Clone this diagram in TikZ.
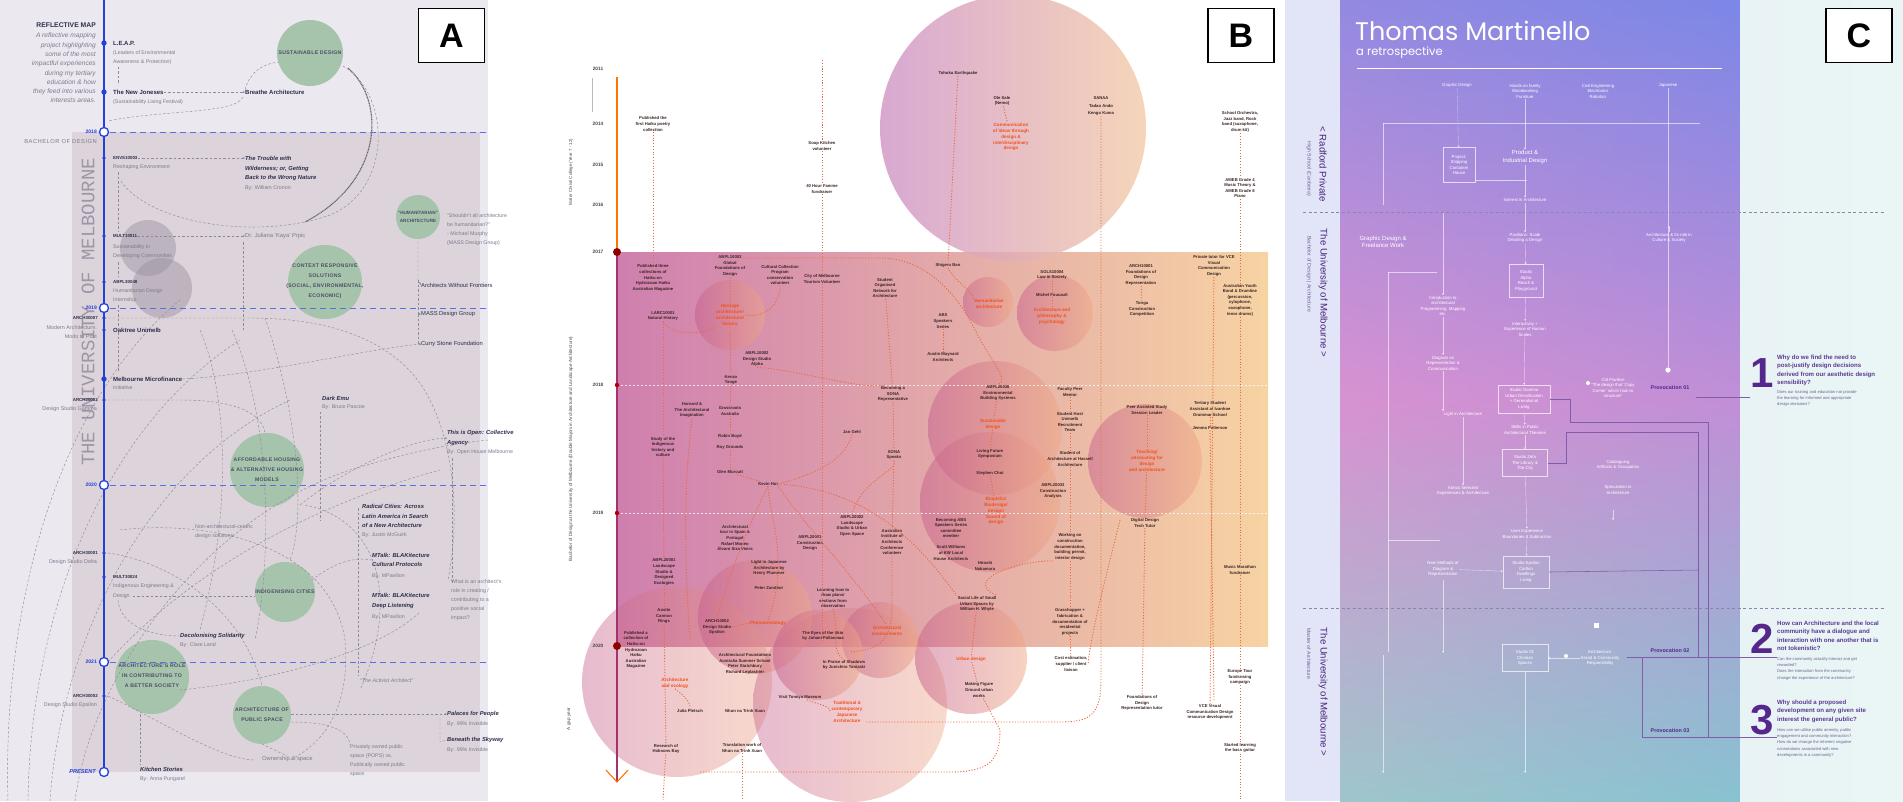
\documentclass[tikz,border=0pt]{standalone}
\usepackage{fontspec}
\setmainfont{Liberation Sans}
\newfontfamily\popp{Poppins}
\newfontfamily\monof{Liberation Mono}
\usetikzlibrary{arrows.meta}
\definecolor{aBg}{HTML}{ECE8F0}
\definecolor{aIn}{HTML}{DDD3DA}
\definecolor{aBlue}{HTML}{2241D6}
\definecolor{aGreen}{HTML}{A6C3AB}
\definecolor{aGreyC}{HTML}{9A909F}
\definecolor{aTxt}{HTML}{2C2F4C}
\definecolor{aGrey}{HTML}{7C7C8E}
\definecolor{aLine}{HTML}{8F8A96}
\definecolor{aUni}{HTML}{9E95A9}
\definecolor{bOr}{HTML}{E96A40}
\definecolor{bTxt}{HTML}{3A2424}
\definecolor{bOt}{HTML}{F1521C}
\definecolor{bPink}{HTML}{CF7FAE}
\definecolor{bPeach}{HTML}{F7D3A3}
\definecolor{bC1}{HTML}{C65E8E}
\definecolor{bC2}{HTML}{EFA886}
\definecolor{bT1}{HTML}{CF93C6}
\definecolor{bT2}{HTML}{F3CBA8}
\definecolor{bLine}{HTML}{A3336F}
\definecolor{bYear}{HTML}{4A4A4A}
\definecolor{cTop}{HTML}{7C87E7}
\definecolor{cMid}{HTML}{D892D1}
\definecolor{cBot}{HTML}{8DD7CA}
\definecolor{cPur}{HTML}{55278C}
\definecolor{cQ}{HTML}{5B3A93}
\definecolor{cSub}{HTML}{6E6390}
\definecolor{cLeft}{HTML}{E2E5F8}
\definecolor{cRight}{HTML}{EAF6F5}
\definecolor{cDash}{HTML}{8A84AE}
\tikzset{
  atitle/.style={font=\fontsize{6.8}{8}\selectfont\bfseries, text=aTxt, inner sep=0pt, anchor=east},
  aital/.style={font=\fontsize{6.6}{9.3}\selectfont\itshape, text=aGrey, inner sep=0pt, anchor=east, align=right},
  aleft/.style={font=\fontsize{5.4}{8.8}\selectfont, text=aGrey, inner sep=0pt, anchor=east, align=right},
  acodel/.style={font=\fontsize{4.4}{5}\selectfont\bfseries, text=aTxt, inner sep=0pt, anchor=east},
  ayear/.style={font=\fontsize{5}{6}\selectfont\bfseries, text=aBlue, inner sep=0pt, anchor=east},
  atx/.style={font=\fontsize{6}{7.2}\selectfont\bfseries, text=aTxt, inner sep=0pt, anchor=west, align=left},
  asub/.style={font=\fontsize{5.3}{9}\selectfont, text=aGrey, inner sep=0pt, anchor=west, align=left},
  acode/.style={font=\fontsize{4.4}{5}\selectfont\bfseries, text=aTxt, inner sep=0pt, anchor=west},
  abook/.style={font=\fontsize{5.8}{9.4}\selectfont\bfseries\itshape, text=aTxt, inner sep=0pt, anchor=west, align=left},
  alab/.style={font=\fontsize{5.2}{10}\selectfont\bfseries\addfontfeature{LetterSpace=6}, text=aTxt!85, align=center, inner sep=0pt},
  gdash/.style={draw=aLine, dash pattern=on 2.5pt off 2pt, line width=0.45pt},
  gtip/.style={gdash, -{Stealth[length=2.2pt,width=2pt]}},
  lbox/.style={draw=black, line width=1.6pt, fill=white, minimum width=66pt, minimum height=54pt, inner sep=0pt, font=\fontsize{34}{34}\selectfont\bfseries},
  btx/.style={font=\fontsize{4.2}{5.6}\selectfont\bfseries, text=bTxt, align=center, inner sep=0.6pt},
  bor/.style={font=\fontsize{4.6}{5.9}\selectfont\bfseries, text=bOt, align=center, inner sep=0.6pt},
  byear/.style={font=\fontsize{4.8}{5}\selectfont\bfseries, text=bYear, inner sep=0pt},
  odot/.style={draw=bOr, dash pattern=on 1.1pt off 1.7pt, line width=0.9pt},
  cw/.style={font=\fontsize{4.3}{5.5}\selectfont, text=white, align=center, inner sep=0.8pt},
  cwb/.style={font=\fontsize{6}{7.4}\selectfont, text=white, align=center, inner sep=0.8pt},
  cbox/.style={cw, draw=white, draw opacity=0.7, line width=0.35pt, minimum width=34pt, minimum height=33pt},
  cwl/.style={draw=white, draw opacity=0.6, line width=0.4pt},
  cwt/.style={cwl, -{Stealth[length=2pt,width=2.2pt]}},
  cpl/.style={draw=cPur!75, line width=0.55pt},
  cprov/.style={font=\fontsize{5.4}{6}\selectfont\bfseries, text=cPur, inner sep=0.5pt},
  cq/.style={font=\fontsize{6.1}{8.3}\selectfont\bfseries, text=cQ, align=left, anchor=north west, inner sep=0pt},
  cqs/.style={font=\fontsize{4.1}{6.3}\selectfont, text=cSub, align=left, anchor=north west, inner sep=0pt},
  cnum/.style={font=\fontsize{42}{42}\selectfont\bfseries, text=cPur, inner sep=0pt},
  cside/.style={font=\fontsize{9.6}{10}\selectfont, text=cPur!85!black, rotate=-90, inner sep=0pt},
  csides/.style={font=\fontsize{5.2}{6}\selectfont, text=cSub, rotate=-90, inner sep=0pt}
}
\begin{document}
\begin{tikzpicture}[x=1pt,y=-1pt]
\useasboundingbox (0,0) rectangle (1903,801);
\fill[white] (0,0) rectangle (1903,801);

%================ PANEL A ================
\fill[aBg] (0,0) rectangle (488,801);
\fill[aIn] (72,132) rectangle (480,772);
\begin{scope}
\clip (0,0) rectangle (488,801);
\fill[aGreen] (310,53) circle[radius=33pt];
\fill[aGreen] (418,217) circle[radius=22pt];
\fill[aGreen] (325,282) circle[radius=37pt];
\fill[aGreyC, opacity=0.45] (148,248) circle[radius=28pt];
\fill[aGreyC, opacity=0.45] (162,288) circle[radius=30pt];
\fill[aGreen] (267,470) circle[radius=37pt];
\fill[aGreen] (285,592) circle[radius=30pt];
\fill[aGreen] (152,677) circle[radius=37pt];
\fill[aGreen] (262,715) circle[radius=29pt];
% big decorative arcs
\draw[gdash] (8,801) .. controls (2,600) and (60,400) .. (180,300);
\draw[gdash] (28,801) .. controls (30,620) and (100,430) .. (240,340);
\draw[gdash] (50,801) .. controls (60,650) and (140,470) .. (290,400);
\draw[gdash] (75,801) .. controls (90,680) and (200,520) .. (350,470) .. controls (400,455) and (440,445) .. (488,440);
\draw[gdash] (200,330) .. controls (230,400) and (230,520) .. (200,630);
\draw[gdash] (232,330) .. controls (272,420) and (272,560) .. (255,640);
\draw[gdash] (265,318) .. controls (300,420) and (305,520) .. (290,560);
\draw[gdash] (243,97) .. controls (236,114) and (160,110) .. (108,121);
\draw[gdash] (343,66) .. controls (392,95) and (392,190) .. (330,215) .. controls (260,240) and (150,225) .. (120,180);
\draw[aLine!70!black, dash pattern=on 1pt off 0.6pt, line width=1.1pt] (348,68) .. controls (385,100) and (385,180) .. (305,222);
\draw[gdash] (108,318) -- (250,318) .. controls (330,318) and (400,340) .. (430,400) .. controls (455,450) and (460,520) .. (448,580);
\draw[gdash] (108,400) -- (180,400) .. controls (240,400) and (262,415) .. (265,433);
\draw[gdash] (108,696) .. controls (160,720) and (220,760) .. (255,760);
\draw[gdash] (108,553) .. controls (160,560) and (240,600) .. (262,686);
\draw[gdash] (108,662) .. controls (200,560) and (330,500) .. (440,470);
\draw[gdash] (180,690) .. controls (280,680) and (380,650) .. (420,612);
\draw[gdash] (120,530) .. controls (200,520) and (330,540) .. (345,640) .. controls (350,700) and (330,740) .. (290,760);
\draw[gdash] (305,505) .. controls (380,520) and (400,600) .. (360,690);
\end{scope}

% timeline A
\draw[aBlue, line width=1.4pt] (104,0) -- (104,767);
\foreach \yy in {132,308,485,662} {\draw[aBlue!75, dash pattern=on 6pt off 4pt, line width=0.8pt] (110,\yy) -- (488,\yy);}
\foreach \yy in {43,92,379} {\fill[aBlue] (104,\yy) circle[radius=2.7pt];}
\foreach \yy in {158,236,282,318,330,400,553,577,696} {\fill[aBlue] (104,\yy) circle[radius=1.8pt];}
\foreach \yy in {132,308,485,662,772} {\draw[aBlue, line width=1.3pt, fill=white] (104,\yy) circle[radius=4.5pt];}

% left texts A
\node[atitle] (rm) at (96,25) {REFLECTIVE MAP};
\node[aital] (intro) at (96,68) {A reflective mapping\\project highlighting\\some of the most\\impactful experiences\\during my tertiary\\education \& how\\they feed into various\\interests areas.};
\node[font=\fontsize{5.8}{6}\selectfont\addfontfeature{LetterSpace=8}, text=aGrey, inner sep=0pt, anchor=east] (bach) at (97,141) {BACHELOR OF DESIGN};
\node[font=\monof\fontsize{19}{19}\selectfont, text=aUni, rotate=90, inner sep=0pt] (uni) at (88,312) {THE UNIVERSITY OF MELBOURNE};
\node[ayear] (y18) at (97,132) {2018};
\node[ayear] (y19) at (97,308) {2019};
\node[ayear] (y20) at (97,485) {2020};
\node[ayear] (y21) at (97,662) {2021};
\node[ayear, font=\fontsize{5.6}{6}\selectfont\bfseries\itshape] (ypr) at (96,772) {PRESENT};
\node[acodel] (a307) at (98,318) {ARCH30007};
\node[aleft] (a307t) at (97,332) {Modern Architecture:\\Modo to Post};
\node[acodel] (a203) at (98,400) {ARCH20003};
\node[aleft] (a203t) at (97,409) {Design Studio Gamma};
\node[acodel] (a301) at (98,553) {ARCH30001};
\node[aleft] (a301t) at (97,562) {Design Studio Delta};
\node[acodel] (a302) at (98,696) {ARCH30002};
\node[aleft] (a302t) at (97,705) {Design Studio Epsilon};

% right texts A
\node[atx] (leap) at (113,43) {L.E.A.P.};
\node[asub] (leapt) at (113,57.5) {(Leaders of Environmental\\Awareness \& Protection)};
\node[atx] (nj) at (113,92) {The New Joneses};
\node[asub] (njt) at (113,102) {(Sustainability Living Festival)};
\node[atx] (br) at (245,92) {Breathe Architecture};
\node[acode] (envs) at (113,158) {ENVS10003};
\node[asub] (envst) at (113,167) {Reshaping Environment};
\node[abook] (trouble) at (245,168.5) {The Trouble with\\Wilderness; or, Getting\\Back to the Wrong Nature};
\node[asub] (troubleb) at (245,188) {By: William Cronon};
\node[acode] (mult) at (113,236) {MULT10011};
\node[asub] (multt) at (113,251.5) {Sustainability in\\Developing Communities};
\node[asub, font=\fontsize{5.8}{7}\selectfont] (jul) at (245,236) {Dr. Juliana ‘Kaya’ Prpic};
\node[acode] (abpl) at (113,282) {ABPL30048};
\node[asub] (abplt) at (113,295.5) {Humanitarian Design\\Internship};
\node[atx] (oak) at (113,330) {Oaktree Unimelb};
\node[atx] (mm) at (113,379) {Melbourne Microfinance};
\node[asub] (mmt) at (113,388) {Initiative};
\node[abook] (emu) at (322,398) {Dark Emu};
\node[asub] (emub) at (322,407) {By: Bruce Pascoe};
\node[asub] (hum) at (447,230) {“Shouldn’t all architecture\\be humanitarian?”\\- Michael Murphy\\(MASS Design Group)};
\node[atx, font=\fontsize{5.8}{7}\selectfont] (awf) at (421,285) {Architects Without Frontiers};
\node[atx, font=\fontsize{5.8}{7}\selectfont] (mass) at (421,314) {MASS Design Group};
\node[atx, font=\fontsize{5.8}{7}\selectfont] (cs) at (421,344) {Curry Stone Foundation};
\node[abook] (open) at (447,438) {This is Open: Collective\\Agency};
\node[asub] (openb) at (447,452) {By: Open House Melbourne};
\node[asub] (nonarch) at (195,532) {Non-architectural-centric\\design solutions};
\node[abook] (rad) at (362,516) {Radical Cities: Across\\Latin America in Search\\of a New Architecture};
\node[asub] (radb) at (362,535) {By: Justin McGuirk};
\node[abook] (mt1) at (372,560) {MTalk: BLAKitecture\\Cultural Protocols};
\node[asub] (mt1b) at (372,576) {By: MPavilion};
\node[abook] (mt2) at (372,601) {MTalk: BLAKitecture\\Deep Listening};
\node[asub] (mt2b) at (372,617) {By: MPavilion};
\node[asub] (what) at (451,600) {What is an architect’s\\role in creating /\\contributing to a\\positive social\\impact?};
\node[acode] (m324) at (113,577) {MULT30024};
\node[asub] (m324t) at (113,586) {Indigenous Engineering \&};
\node[asub] (ides) at (113,596) {Design};
\node[abook] (dec) at (180,636) {Decolonising Solidarity};
\node[asub] (decb) at (180,645) {By: Clare Land};
\node[asub, font=\fontsize{5.3}{7}\selectfont\itshape] (act) at (360,681) {“The Activist Architect”};
\node[asub, font=\fontsize{5.8}{7}\selectfont] (own) at (262,759) {Ownership \& space};
\node[asub] (pops) at (350,761) {Privately owned public\\space (POPS) vs.\\Publically owned public\\space};
\node[abook] (pal) at (447,714) {Palaces for People};
\node[asub] (palb) at (447,724) {By: 99\% Invisible};
\node[abook] (sky) at (447,740) {Beneath the Skyway};
\node[asub] (skyb) at (447,750) {By: 99\% Invisible};
\node[abook] (kit) at (140,769) {Kitchen Stories};
\node[asub] (kitb) at (140,779) {By: Anna Pungarel};

% circle labels A
\node[alab] (sd) at (310,53) {SUSTAINABLE DESIGN};
\node[alab, font=\fontsize{4.6}{7.5}\selectfont\bfseries] (ha) at (418,217) {“HUMANITARIAN”\\ARCHITECTURE};
\node[alab] (crs) at (325,281) {CONTEXT RESPONSIVE\\SOLUTIONS\\(SOCIAL, ENVIRONMENTAL,\\ECONOMIC)};
\node[alab] (ah) at (267,470) {AFFORDABLE HOUSING\\\& ALTERNATIVE HOUSING\\MODELS};
\node[alab] (ic) at (285,592) {INDIGENISING CITIES};
\node[alab] (ar) at (152,676) {ARCHITECTURE’S ROLE\\IN CONTRIBUTING TO\\A BETTER SOCIETY};
\node[alab] (ps) at (262,715) {ARCHITECTURE OF\\PUBLIC SPACE};

% connectors A
\draw[gdash] (leapt.south west) ++(5,2) -- ++(0,18);
\draw[gtip] (nj) -- (br);
\draw[gdash] (br.north west) .. controls (250,72) and (262,64) .. (279,62);
\draw[gtip] (envs) -- (trouble.west |- envs);
\draw[gdash] (118,172) -- (118,232);
\draw[gtip] (mult) -- (jul);
\draw[gdash] (243,242) -- (243,330);
\draw[gdash] (118,262) -- (118,276);
\draw[gdash] (118,305) -- (118,372);
\draw[gtip] (418,242) -- (418,280) -- (awf.west);
\draw[gtip] (418,280) -- (418,314) -- (mass.west);
\draw[gtip] (418,314) -- (418,344) -- (cs.west);
\draw[gdash] (mm.east) .. controls (260,375) and (360,350) .. (cs.west);
\draw[gdash] (emub.south west) ++(-2,2) -- (320,520);
\draw[gtip] (300,505) .. controls (330,480) and (400,440) .. (open.west);
\draw[gdash] (452,458) -- (452,582);
\draw[gdash] (ides.east) ++(3,0) -- (255,596);
\draw[gdash] (312,580) .. controls (330,566) and (350,556) .. (mt1.west);
\draw[gdash] (358,508) -- (358,676);
\draw[gdash] (118,600) .. controls (120,625) and (150,636) .. (dec.west);
\draw[gtip] (291,714) -- (pal.west);
\draw[gdash] (262,744) -- (own.north);
\draw[gdash] (291,722) .. controls (340,722) and (349,735) .. (pops.north west);
\draw[gdash] (140,714) -- (140,764);
\draw[gdash] (440,718) -- (440,742) -- (sky.west);

\node[lbox] (la) at (451.5,35.5) {A};

%================ PANEL B ================
\shade[left color=bPink, right color=bPeach] (617,252) rectangle (1268,646);
\shade[left color=bT1, right color=bT2, opacity=0.8] (1013,128) circle[radius=133pt];
\shade[left color=bC1, right color=bC2, opacity=0.42] (677,682) circle[radius=95pt];
\shade[left color=bC1, right color=bC2, opacity=0.42] (850,705) circle[radius=97pt];
\foreach \cx/\cy/\rr in {730/315/35, 988/302/25, 1055/313/38, 995/428/67, 990/502/70, 1145/461/57, 971/658/56, 880/640/38, 755/617/57, 818/655/45}
  {\shade[left color=bC1, right color=bC2, opacity=0.5] (\cx,\cy) circle[radius=\rr pt];}
\draw[white, dash pattern=on 2pt off 2pt, line width=0.6pt, opacity=0.75] (617,385) -- (1268,385);
\draw[white, dash pattern=on 2pt off 2pt, line width=0.6pt, opacity=0.75] (617,513) -- (1268,513);

% timeline B
\draw[aLine!60, line width=0.5pt] (592,78) -- (592,112);
\draw[draw=orange!90!red, line width=1.5pt] (617,77) -- (617,252);
\draw[bLine, line width=1.5pt] (617,252) -- (617,781);
\draw[orange!90!red, line width=1.1pt] (606,770) -- (617,782) -- (628,770);
\fill[red!55!black] (617,252) circle[radius=4pt];
\fill[red!70!black] (617,385) circle[radius=2.2pt];
\fill[red!70!black] (617,513) circle[radius=2.2pt];
\fill[red!55!black] (617,646) circle[radius=4pt];
\node[byear] (t11) at (598,69) {2011};
\node[byear] (t14) at (598,124) {2014};
\node[byear] (t15) at (598,165) {2015};
\node[byear] (t16) at (598,205) {2016};
\node[byear] (t17) at (598,252) {2017};
\node[byear] (t18) at (598,385) {2018};
\node[byear] (t19) at (598,513) {2019};
\node[byear] (t20) at (598,646) {2020};
\node[font=\fontsize{4.4}{5}\selectfont, text=bYear, rotate=90, inner sep=0pt] (lmc) at (571,172) {Mater Christi College (Year 7 - 12)};
\node[font=\fontsize{4.6}{5}\selectfont, text=bYear, rotate=90, inner sep=0pt] (lbd) at (571,449) {Bachelor of Design at the University of Melbourne (Double Majors in Architecture and Landscape Architecture)};
\node[font=\fontsize{4.6}{5}\selectfont, text=bYear, rotate=90, inner sep=0pt] (lgy) at (569,719) {A gap year};

% B text nodes
\node[btx] (b1) at (653,124) {Published the\\first Haiku poetry\\collection};
\node[btx] (b2) at (822,146) {Soup Kitchen\\volunteer};
\node[btx] (b3) at (822,189) {40 Hour Famine\\fundraiser};
\node[btx] (b4) at (653,278) {Published three\\collections of\\Haiku on\\Hydrozoan Haiku\\Australian Magazine};
\node[btx] (b5) at (730,266) {ABPL10003\\Global\\Foundations of\\Design};
\node[btx] (b6) at (780,275) {Cultural Collection\\Program\\conservation\\volunteer};
\node[btx] (b7) at (822,279) {City of Melbourne\\Tourism Volunteer};
\node[btx] (b8) at (663,316) {LARC10001\\Natural History};
\node[bor] (b9) at (730,315) {Heritage\\architecture/\\architectural\\history};
\node[btx] (b10) at (757,359) {ABPL10002\\Design Studio\\Alpha};
\node[btx] (b12) at (731,380) {Kenzo\\Tange};
\node[btx] (b13) at (692,410) {Harvard \&\\The Architectural\\Imagination};
\node[btx] (b14) at (730,411) {Grassroots\\Australia};
\node[btx] (b15) at (730,436) {Robin Boyd};
\node[btx] (b16) at (730,447) {Roy Grounds};
\node[btx] (b17) at (730,472) {Glen Murcutt};
\node[btx] (b18) at (663,447) {Study of the\\Indigenous\\history and\\culture};
\node[btx] (b19) at (768,484) {Kevin Hui};
\node[btx] (b20) at (852,432) {Jan Gehl};
\node[btx] (b21) at (735,538) {Architectural\\tour in Spain \&\\Portugal\\Rafael Moneo\\Álvaro Siza Vieira};
\node[btx] (b22) at (810,543) {ABPL20001\\Construction\\Design};
\node[btx] (b23) at (852,526) {ABPL20002\\Landscape\\Studio \& Urban\\Open Space};
\node[btx] (b24) at (664,572) {ABPL20001\\Landscape\\Studio \&\\Designed\\Ecologies};
\node[btx] (b25) at (769,568) {Light in Japanese\\Architecture by\\Henry Plummer};
\node[btx] (b26) at (769,588) {Peter Zumthor};
\node[btx] (b27) at (833,598) {Learning how to\\draw plans/\\sections from\\observation};
\node[btx] (b28) at (664,616) {Austin\\Cannon\\Rings};
\node[btx] (b29) at (717,627) {ARCH10002\\Design Studio\\Epsilon};
\node[bor] (b30) at (768,623) {Phenomenology};
\node[btx] (b31) at (823,636) {The Eyes of the Skin\\by Juhani Pallasmaa};
\node[btx] (b32) at (636,650) {Published a\\collection of\\Haiku on\\Hydrozoan\\Haiku\\Australian\\Magazine};
\node[btx] (b33) at (745,664) {Architectural Foundations\\Australia Summer School\\Peter Stutchbury\\Richard Leplastrier};
\node[btx] (b34) at (844,665) {In Praise of Shadows\\by Junichiro Tanizaki};
\node[bor] (b35) at (675,683) {Architecture\\and ecology};
\node[btx] (b36) at (800,697) {Visit Tomiya Museum};
\node[bor] (b37) at (847,712) {Traditional \&\\contemporary\\Japanese\\Architecture};
\node[btx] (b38) at (690,711) {Julia Pletsch};
\node[btx] (b39) at (745,711) {Nhun na Trinh Xuan};
\node[btx] (b40) at (666,749) {Research of\\Hobsons Bay};
\node[btx] (b41) at (742,748) {Translation work of\\Nhun na Trinh Xuan};
\node[btx] (b42) at (958,73) {Tohoku Earthquake};
\node[btx] (b43) at (1002,101) {Ole Sale\\(Nemo)};
\node[bor] (b44) at (1011,137) {Communication\\of ideas through\\design \&\\interdisciplinary\\design};
\node[btx] (b45) at (1101,106) {SANAA\\[2pt]Tadao Ando\\[2pt]Kengo Kuma};
\node[btx] (b46) at (1240,122) {School Orchestra,\\Jazz band, Rock\\band (saxophone,\\drum kit)};
\node[btx] (b47) at (1240,188) {AMEB Grade 4\\Music Theory \&\\AMEB Grade 8\\Piano};
\node[btx] (b48) at (948,265) {Shigeru Ban};
\node[btx] (b49) at (885,288) {Student\\Organised\\Network for\\Architecture};
\node[btx] (b50) at (1052,275) {SOLS10004\\Law in Society};
\node[bor] (b51) at (989,304) {Humanitarian\\architecture};
\node[btx] (b52) at (1052,295) {Michel Foucault};
\node[bor] (b53) at (1052,316) {Architecture and\\philosophy \&\\psychology};
\node[btx] (b54) at (1141,275) {ARCH10001\\Foundations of\\Design\\Representation};
\node[btx] (b55) at (1142,309) {Tonga\\Construction\\Competition};
\node[btx] (b56) at (1214,266) {Private tutor for VCE\\Visual\\Communication\\Design};
\node[btx] (b57) at (1240,300) {Australian Youth\\Band \& Drumline\\(percussion,\\xylophone,\\saxophone,\\tenor drums)};
\node[btx] (b58) at (943,321) {ABS\\Speakers\\Series};
\node[btx] (b59) at (943,357) {Austin Maynard\\Architects};
\node[btx] (b60) at (893,394) {Becoming a\\SONA\\Representative};
\node[btx] (b61) at (998,393) {ABPL20036\\Environmental\\Building Systems};
\node[btx] (b62) at (1070,392) {Faculty Peer\\Mentor};
\node[bor] (b63) at (993,424) {Sustainable\\design};
\node[btx] (b64) at (1070,422) {Student Host\\Unimelb\\Recruitment\\Team};
\node[btx] (b65) at (1147,410) {Peer Assisted Study\\Session Leader};
\node[btx] (b66) at (1210,409) {Tertiary Student\\Assistant at Ivanhoe\\Grammar School};
\node[btx] (b67) at (1210,428) {Jemma Patterson};
\node[btx] (b68) at (990,454) {Living Future\\Symposium};
\node[btx] (b69) at (990,473) {Stephen Choi};
\node[btx] (b70) at (1070,459) {Student of\\Architecture at Hassell\\Architecture};
\node[bor] (b71) at (1147,461) {Teaching/\\advocating for\\design\\and architecture};
\node[btx] (b72) at (1053,491) {ABPL20033\\Construction\\Analysis};
\node[btx] (b73) at (894,455) {SONA\\Speaks};
\node[bor] (b74) at (996,511) {Biophilic/\\Biodesign/\\design/\\Sound of\\design};
\node[btx] (b75) at (951,528) {Becoming ABS\\Speakers Series\\committee\\member};
\node[btx] (b76) at (892,542) {Australian\\Institute of\\Architects\\Conference\\volunteer};
\node[btx] (b77) at (951,553) {Scott Williams\\at KW Local\\House Architects};
\node[btx] (b78) at (985,566) {Hiroshi\\Nakamura};
\node[btx] (b79) at (1070,547) {Working on\\construction\\documentation,\\building permit,\\interior design};
\node[btx] (b80) at (1145,523) {Digital Design\\Tech Tutor};
\node[btx] (b81) at (1240,570) {Music Marathon\\fundraiser};
\node[btx] (b83) at (977,604) {Social Life of Small\\Urban Spaces by\\William H. Whyte};
\node[btx] (b84) at (1070,622) {Grasshopper +\\fabrication \&\\documentation of\\residential\\projects};
\node[bor] (b85) at (971,659) {Urban design};
\node[btx] (b86) at (1071,664) {Cost estimation,\\supplier / client\\liaison};
\node[btx] (b87) at (979,690) {Making Figure\\Ground urban\\works};
\node[btx] (b88) at (1240,677) {Europe Tour\\fundraising\\campaign};
\node[btx] (b89) at (1142,703) {Foundations of\\Design\\Representation tutor};
\node[btx] (b90) at (1210,712) {VCE Visual\\Communication Design\\resource development};
\node[btx] (b91) at (1240,748) {Started learning\\the bass guitar};
\node[bor] (b92) at (887,631) {Architectural\\environments};

% B connectors
\draw[odot] (b1) -- (b4);
\draw[odot] (822,60) -- (b2);
\draw[odot] (b2) -- (b3);
\draw[odot] (b3) -- (b7);
\draw[odot] (b7) -- (822,640);
\draw[odot] (b42) -- (b48);
\draw[odot] (b48.south) .. controls (955,282) and (972,290) .. (b51.north west);
\draw[odot] (b43) -- (b44);
\draw[odot] (b45) -- (1101,680) .. controls (1101,715) and (1090,722) .. (1060,722) -- (865,722);
\draw[odot] (700,772) -- (950,772) .. controls (990,772) and (1000,760) .. (1000,730) -- (b87);
\draw[odot] (b46) -- (b47);
\draw[odot] (b47) -- (b57);
\draw[odot] (b57) -- (b81);
\draw[odot] (b81) -- (b88);
\draw[odot] (b88) -- (b91);
\draw[odot] (b91) -- (1240,800);
\draw[odot] (b56) -- (b90);
\draw[odot] (b54) -- (b55);
\draw[odot] (b80) -- (b89);
\draw[odot] (b62) -- (b64);
\draw[odot] (b64) -- (b70);
\draw[odot] (b70) -- (b79);
\draw[odot] (b79) -- (b84);
\draw[odot] (b84) -- (b86);
\draw[odot] (b49) -- (b60);
\draw[odot] (b60) -- (b73);
\draw[odot] (b73) -- (b76);
\draw[odot] (b76) -- (892,605) .. controls (892,640) and (880,650) .. (850,652);
\draw[odot] (b58) -- (b59);
\draw[odot] (b5) -- (b9);
\draw[odot] (b9) -- (b12);
\draw[odot] (b12) -- (b14);
\draw[odot] (b14) -- (b15);
\draw[odot] (b16) -- (b17);
\draw[odot] (b8) -- (b18);
\draw[odot] (b18) -- (b24);
\draw[odot] (b24) -- (b28);
\draw[odot] (b28) -- (b40);
\draw[odot] (b40) -- (663,800);
\draw[odot] (b41) -- (742,800);
\draw[odot] (b61) -- (b63);
\draw[odot] (b63) -- (b68);
\draw[odot] (b69) -- (b74);
\draw[odot] (b83) -- (b85);
\draw[odot] (b85) -- (b87);
\draw[odot] (b50) -- (b52);
\draw[odot] (b52) -- (b53);
\draw[odot] (b6.south) .. controls (780,305) and (765,318) .. (b9.east);
\draw[odot] (b8.south) .. controls (672,335) and (700,336) .. (b9.south west);
\draw[odot] (742,258) -- (880,258) .. controls (930,258) and (960,300) .. (975,330) .. controls (990,360) and (1010,380) .. (b61.north);
\draw[odot] (b17) -- (b19);
\draw[odot] (b20.south) .. controls (845,465) and (800,478) .. (b19.east);
\draw[odot] (b19.south) .. controls (750,520) and (720,600) .. (b29.north);
\draw[odot] (b19.south east) .. controls (800,520) and (850,570) .. (b92.north);
\draw[odot] (b19.south) .. controls (770,520) and (790,560) .. (b30.north);
\draw[odot] (b19.east) .. controls (880,490) and (930,560) .. (b83.north west);
\draw[odot] (b23.north) .. controls (860,480) and (900,470) .. (b73.south);
\draw[odot] (b36) .. controls (820,705) and (830,706) .. (b37.west);
\draw[odot] (b35.south) .. controls (690,700) and (690,705) .. (b38.north);
\draw[odot] (b27.south) .. controls (840,640) and (830,650) .. (b34.north);
\draw[odot] (b29.east) -- (b30.west);
\draw[odot] (b65) -- (b71);
\draw[odot] (b71) -- (b80);
\draw[odot] (b66) -- (b67);
\draw[odot] (b67) -- (1214,700);
\draw[odot] (b79.south west) .. controls (1020,560) and (960,580) .. (b83.north east);
\draw[odot] (1120,520) .. controls (1100,600) and (1090,640) .. (b86.east);
\draw[odot] (b13.south) .. controls (690,440) and (680,500) .. (690,640);
\draw[odot] (b10.south) .. controls (800,370) and (860,390) .. (885,385);

\node[lbox] (lb) at (1241,35.5) {B};

%================ PANEL C ================
\fill[cLeft] (1285,0) rectangle (1340,801);
\shade[top color=cTop, bottom color=cMid] (1340,0) rectangle (1740,400);
\shade[top color=cMid, bottom color=cBot] (1340,400) rectangle (1740,801.5);
\shade[left color=cMid, right color=cTop, opacity=0.25] (1340,0) rectangle (1740,801);
\shade[left color=cRight!80!cLeft, right color=cRight] (1740,0) rectangle (1903,801);
\node[font=\popp\fontsize{25.5}{27}\selectfont, text=white, anchor=west, inner sep=0pt] (ctitle) at (1355,31) {Thomas Martinello};
\node[font=\popp\fontsize{11.5}{12}\selectfont, text=white, anchor=west, inner sep=0pt] (csub) at (1356,53) {a retrospective};
\draw[white, line width=0.7pt] (1357,68) -- (1722,68);
\draw[cDash, dash pattern=on 3pt off 2.5pt, line width=0.8pt] (1303,212) -- (1885,212);
\draw[cDash, dash pattern=on 3pt off 2.5pt, line width=0.8pt] (1303,608) -- (1885,608);

\node[cside] (rad1) at (1323,164) {< Radford Private};
\node[csides] (rad2) at (1309,169) {High School (Canberra)};
\node[cside] (um1) at (1323,293) {The University of Melbourne >};
\node[csides] (um2) at (1309,274) {Bachelor of Design | Architecture};
\node[cside] (um3) at (1323,692) {The University of Melbourne >};
\node[csides] (um4) at (1309,654) {Master of Architecture};

% frame lines
\draw[cwl] (1383,123) -- (1700,123);
\draw[cwl] (1383,123) -- (1383,205);
\draw[cwl] (1388,272) -- (1437,272);
\draw[cwl] (1388,272) -- (1388,652);
\draw[cwl] (1388,540) -- (1440,540);

\node[cw] (c1) at (1457,85) {Graphic Design};
\node[cw] (c2) at (1525,91) {Hands on family\\Woodworking\\Furniture};
\node[cw] (c3) at (1598,91) {Civil Engineering\\Electronics\\Robotics};
\node[cw] (c4) at (1668,85) {Japanese};
\node[cbox, minimum width=32pt, minimum height=35pt] (c5) at (1459,165) {Project:\\Shipping\\Container\\House};
\node[cwb] (c6) at (1525,157) {Product \&\\Industrial Design};
\node[cw] (c7) at (1525,200) {Interest in Architecture};
\node[cwb] (c8) at (1383,242) {Graphic Design \&\\Freelance Work};
\node[cw] (c9) at (1525,238) {Pavilions: Scale\\Detailing a Design};
\node[cbox] (c10) at (1526,281) {Studio\\Alpha\\Reach \&\\Playground};
\node[cw] (c11) at (1669,238) {Architecture \& Its role in\\Culture \& Society};
\node[cw] (c12) at (1443,306) {Introduction to\\architectural\\Programming, Mapping\\etc.};
\node[cw] (c13) at (1525,329) {Interactivity +\\Experience of Human\\Scales};
\node[cw] (c14) at (1443,363) {Diagram as\\Representation \&\\Communication};
\node[cbox, minimum width=52pt, minimum height=28pt] (c15) at (1524,399) {Studio Gamma\\Urban Densification\\+ Generational\\Living};
\node[cw] (c16) at (1613,388) {Ctrl Pavilion\\“The design that ‘Copy\\Corner’ which had no\\structure”};
\node[cw] (c17) at (1463,414) {Light in Architecture};
\node[cw] (c18) at (1525,430) {Skills in Public\\Architectural Theories};
\node[cbox, minimum width=45pt, minimum height=27pt] (c19) at (1525,463) {Studio Zeta\\The Library \&\\The City};
\node[cw] (c20) at (1618,465) {Cataloguing\\Artifacts \& Occupation};
\node[cw] (c21) at (1618,490) {Speculation in\\Architecture};
\node[cw] (c22) at (1463,491) {Atmos Selected\\Experiences \& Architecture};
\node[cw] (c23) at (1527,534) {User Experience\\Boundaries \& Subtraction};
\node[cw] (c24) at (1443,569) {New Methods of\\Diagram \&\\Representation};
\node[cbox, minimum width=46pt, minimum height=32pt] (c25) at (1526,572) {Studio Epsilon\\Carlton\\Dwellings\\Living};
\node[cbox, minimum width=46pt, minimum height=27pt] (c26) at (1525,658) {Studio 01\\Chinese\\Spaces};
\node[cw] (c27) at (1600,658) {Architecture:\\Social \& Community\\Responsibility};
\node[cprov] (p1) at (1670,388) {Provocation 01};
\node[cprov] (p2) at (1670,651) {Provocation 02};
\node[cprov] (p3) at (1670,731) {Provocation 03};
\fill[white] (1668,370) circle[radius=2.6pt];
\fill[white] (1588,383) circle[radius=2pt];
\fill[white] (1566,656) circle[radius=2pt];
\fill[white] (1594,623) rectangle (1598.5,627.5);

% white connectors C
\draw[cwt, dash pattern=on 1pt off 1pt] (c1) -- (c5);
\draw[cwt] (c2) -- (c6);
\draw[cwl] (c4) -- (1668,367);
\draw[cwl] (c5.east |- 1459,180) -- (1527,180);
\draw[cwt] (c6) -- (c7);
\draw[cwt] (c7) -- (c9);
\draw[cwt] (c9) -- (c10);
\draw[cwt] (c10) -- (c13);
\draw[cwt] (c13) -- (c15);
\draw[cwt] (c15) -- (c18);
\draw[cwt] (c18) -- (c19);
\draw[cwt] (c19) -- (c23);
\draw[cwt] (c23) -- (c25);
\draw[cwt] (1443,213) -- (c12);
\draw[cwt] (c12) -- (c14);
\draw[cwt] (c14) -- (c17.north -| 1443,0);
\draw[cwt] (c17) -- (c22);
\draw[cwt] (c11) -- (1669,226);
\draw[cwt] (c24) -- (c25);
\draw[cwt] (c27) -- (c26);
\draw[cwt] (1443,580) -- (1443,653);
\draw[cwt] (1383,655) -- (1383,773);
\draw[cwt] (c26) -- (1525,773);
\draw[cwt] (1613,510) -- (1613,520);

% purple connectors C
\draw[cpl] (c15.east) -- (1570,399) -- (1570,422) -- (1708,422) -- (1708,737);
\draw[cpl] (c19.east) -- (1566,463) -- (1566,432) -- (1698,432) -- (1698,657);
\draw[cpl] (c25.east) -- (1698,570);
\draw[cpl] (1627,657) -- (1777,657);
\draw[cpl] (1642,657) -- (1642,737) -- (1777,737);
\draw[cpl] (1696,397) -- (1750,397);

% questions
\node[cnum] (n1) at (1762,373) {1};
\node[cq] (q1) at (1777,355) {Why do we find the need to\\post-justify design decisions\\derived from our aesthetic design\\sensibility?};
\node[cqs] (q1s) at (1777,390) {Does our training and education not provide\\the learning for informed and appropriate\\design decisions?};
\node[cnum] (n2) at (1762,639) {2};
\node[cq] (q2) at (1777,621) {How can Architecture and the local\\community have a dialogue and\\interaction with one another that is\\not tokenistic?};
\node[cqs] (q2s) at (1777,657) {Can the community actually interact and get\\rewarded?\\Does the interaction from the community\\change the experience of the architecture?};
\node[cnum] (n3) at (1762,720) {3};
\node[cq] (q3) at (1777,700) {Why should a proposed\\development on any given site\\interest the general public?};
\node[cqs] (q3s) at (1777,728) {How can we utilise public amenity, public\\engagement and community interaction?\\How do we change the inherent negative\\connotations associated with new\\developments in a community?};

\node[lbox] (lc) at (1859,35.5) {C};
\end{tikzpicture}
\end{document}
